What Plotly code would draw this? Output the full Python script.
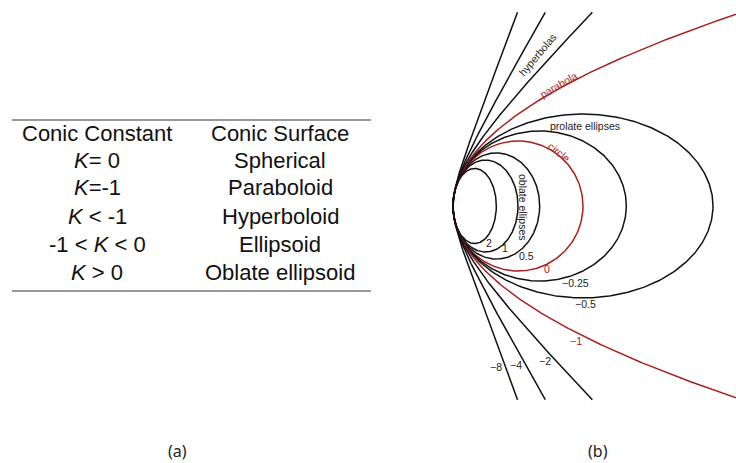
import numpy as np
import plotly.graph_objects as go

# ---------------- data ----------------
table_header = ["Conic Constant", "Conic Surface"]
table_constant = ["<i>K</i>= 0", "<i>K</i>=-1", "<i>K</i> &lt; -1", "-1 &lt; <i>K</i> &lt; 0", "<i>K</i> &gt; 0"]
table_surface = ["Spherical", "Paraboloid", "Hyperboloid", "Ellipsoid", "Oblate ellipsoid"]

ellipse_K = [2, 1, 0.5, 0, -0.25, -0.5]
parabola_K = [-1]
hyperbola_K = [-2, -4, -8]
K_labels = ["2", "1", "0.5", "0", "\u22120.25", "\u22120.5", "\u22121", "\u22122", "\u22124", "\u22128"]
K_label_values = [2, 1, 0.5, 0, -0.25, -0.5, -1, -2, -4, -8]
group_labels = ["hyperbolas", "parabola", "prolate ellipses", "circle", "oblate ellipses"]

R = 1.0
YMAX = 2.98

W, H = 736, 463
VX, VY, S = 453.0, 206.0, 65.0  # vertex pixel and pixels per unit

BLACK = "#111111"
RED = "#a8201e"


def color_for(k):
    return RED if k in (0, -1) else BLACK


def px2u(px):
    return (px - VX) / S


def py2v(py):
    return (VY - py) / S


fig = go.Figure()

# ellipses (incl. circle)
t = np.linspace(0, 2 * np.pi, 400)
for k in ellipse_K:
    a = R / (1 + k)
    b = R / np.sqrt(1 + k)
    fig.add_trace(go.Scatter(x=a + a * np.cos(t), y=b * np.sin(t), mode="lines",
                             line=dict(color=color_for(k), width=1.5),
                             xaxis="x", yaxis="y", hoverinfo="skip", showlegend=False))

yy = np.linspace(-YMAX, YMAX, 600)
for k in parabola_K:
    fig.add_trace(go.Scatter(x=yy ** 2 / (2 * R), y=yy, mode="lines",
                             line=dict(color=color_for(k), width=1.5),
                             xaxis="x", yaxis="y", hoverinfo="skip", showlegend=False))
for k in hyperbola_K:
    c = 1 + k
    xx = (R - np.sqrt(R ** 2 - c * yy ** 2)) / c
    fig.add_trace(go.Scatter(x=xx, y=yy, mode="lines",
                             line=dict(color=color_for(k), width=1.5),
                             xaxis="x", yaxis="y", hoverinfo="skip", showlegend=False))

annotations = []
lab_font = dict(family="Liberation Sans, Arial", size=10.5)

# K value labels (pixel positions)
k_pos = [(489, 243), (505, 248), (526, 256), (547, 269), (575, 283), (585, 304),
         (576, 341), (545, 361), (516, 365), (496, 367)]
for lab, kv, (px, py) in zip(K_labels, K_label_values, k_pos):
    annotations.append(dict(x=px2u(px), y=py2v(py), xref="x", yref="y", text=lab,
                            showarrow=False, font=dict(lab_font, color=RED if kv in (0, -1) else "#222"),
                            xanchor="center", yanchor="middle"))

grp_pos = [(537, 55, -50, "#222"), (558, 85, -30, RED), (585, 126, 0, "#222"),
           (559, 152, 38, RED), (523, 207, 90, "#222")]
for lab, (px, py, ang, col) in zip(group_labels, grp_pos):
    annotations.append(dict(x=px2u(px), y=py2v(py), xref="x", yref="y", text=lab,
                            showarrow=False, textangle=ang, font=dict(lab_font, color=col),
                            xanchor="center", yanchor="middle"))

# table text
tfont = dict(family="Liberation Sans, Arial", size=22, color="#111")
col_x = [97, 280]
row_y = [133, 160, 188, 216, 244, 272]
for j, hdr in enumerate(table_header):
    annotations.append(dict(x=col_x[j] / W, y=1 - row_y[0] / H, xref="paper", yref="paper",
                            text=hdr, showarrow=False, font=tfont, xanchor="center", yanchor="middle"))
for i, (cst, srf) in enumerate(zip(table_constant, table_surface)):
    annotations.append(dict(x=col_x[0] / W, y=1 - row_y[i + 1] / H, xref="paper", yref="paper",
                            text=cst, showarrow=False, font=tfont, xanchor="center", yanchor="middle"))
    annotations.append(dict(x=col_x[1] / W, y=1 - row_y[i + 1] / H, xref="paper", yref="paper",
                            text=srf, showarrow=False, font=tfont, xanchor="center", yanchor="middle"))

# captions
cap_font = dict(family="Noto Sans, DejaVu Sans", size=16, color="#222")
annotations.append(dict(x=177 / W, y=1 - 451 / H, xref="paper", yref="paper", text="(a)",
                        showarrow=False, font=cap_font, xanchor="center", yanchor="middle"))
annotations.append(dict(x=598 / W, y=1 - 451 / H, xref="paper", yref="paper", text="(b)",
                        showarrow=False, font=cap_font, xanchor="center", yanchor="middle"))

shapes = [
    dict(type="line", xref="paper", yref="paper", x0=12 / W, x1=371 / W, y0=1 - 120 / H, y1=1 - 120 / H,
         line=dict(color="#333", width=1)),
    dict(type="line", xref="paper", yref="paper", x0=12 / W, x1=371 / W, y0=1 - 291 / H, y1=1 - 291 / H,
         line=dict(color="#333", width=1)),
]

x0px = 440
fig.update_layout(
    width=W, height=H, margin=dict(l=0, r=0, t=0, b=0),
    paper_bgcolor="white", plot_bgcolor="rgba(0,0,0,0)",
    xaxis=dict(domain=[x0px / W, 1], range=[px2u(x0px), px2u(W)], visible=False, fixedrange=True),
    yaxis=dict(domain=[0, 1], range=[py2v(H), py2v(0)], visible=False, fixedrange=True),
    annotations=annotations, shapes=shapes, showlegend=False,
)

fig.write_html("out.html", config=dict(displayModeBar=False),
               post_script="document.body.style.margin='0';document.body.style.overflow='hidden';")
